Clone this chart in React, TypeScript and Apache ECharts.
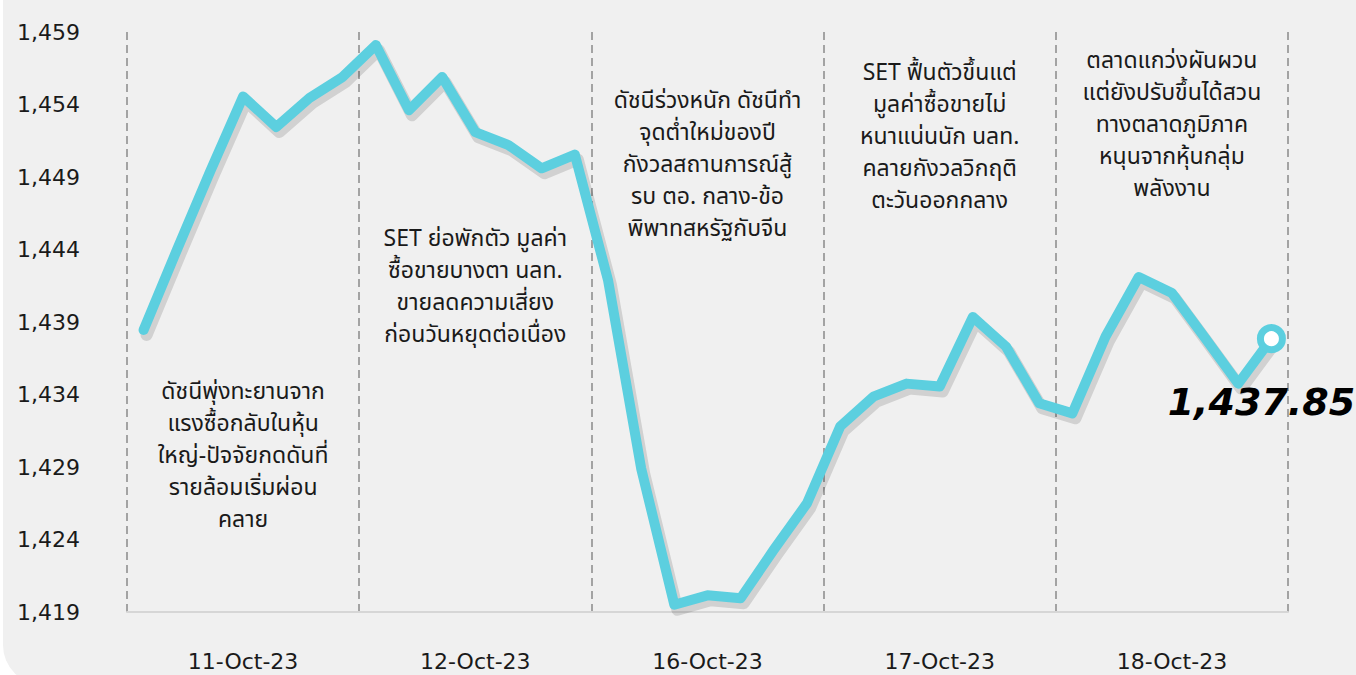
import React, { useEffect, useRef } from "react";
import * as echarts from "echarts";

const dayLabels = ["11-Oct-23", "12-Oct-23", "16-Oct-23", "17-Oct-23", "18-Oct-23"];
const pointsPerDay = 7;
const day1 = [1438.45, 1443.95, 1449.35, 1454.55, 1452.45, 1454.45, 1455.9];
const day2 = [1458.1, 1453.6, 1455.9, 1452.1, 1451.2, 1449.6, 1450.55];
const day3 = [1441.9, 1428.9, 1419.5, 1420.15, 1419.95, 1423.3, 1426.5];
const day4 = [1431.8, 1433.85, 1434.75, 1434.55, 1439.35, 1437.3, 1433.4];
const day5 = [1432.7, 1438.0, 1442.1, 1441.0, 1437.9, 1434.75, 1437.85];
const yTickLabels = ["1,419", "1,424", "1,429", "1,434", "1,439", "1,444", "1,449", "1,454", "1,459"];
const yMin = 1419;
const yMax = 1459;
const lastLabel = "1,437.85";
const notes = [
  "ดัชนีพุ่งทะยานจาก\nแรงซื้อกลับในหุ้น\nใหญ่-ปัจจัยกดดันที่\nรายล้อมเริ่มผ่อน\nคลาย",
  "SET ย่อพักตัว มูลค่า\nซื้อขายบางตา นลท.\nขายลดความเสี่ยง\nก่อนวันหยุดต่อเนื่อง",
  "ดัชนีร่วงหนัก ดัชนีทำ\nจุดต่ำใหม่ของปี\nกังวลสถานการณ์สู้\nรบ ตอ. กลาง-ข้อ\nพิพาทสหรัฐกับจีน",
  "SET ฟื้นตัวขึ้นแต่\nมูลค่าซื้อขายไม่\nหนาแน่นนัก นลท.\nคลายกังวลวิกฤติ\nตะวันออกกลาง",
  "ตลาดแกว่งผันผวน\nแต่ยังปรับขึ้นได้สวน\nทางตลาดภูมิภาค\nหนุนจากหุ้นกลุ่ม\nพลังงาน",
];
const noteTops = [374, 221, 83, 55, 43];

const FONT = "'Noto Sans', 'Noto Sans Thai', Tahoma, sans-serif";
const AXIS_FONT = "'DejaVu Sans', 'Noto Sans', sans-serif";

export default function App() {
  const ref = useRef<HTMLDivElement>(null);
  useEffect(() => {
    document.body.style.margin = "0";
    const chart = echarts.init(ref.current!, null, { renderer: "svg" });
    const values = [...day1, ...day2, ...day3, ...day4, ...day5];
    const cats: string[] = [];
    dayLabels.forEach((d) => {
      for (let i = 0; i < pointsPerDay; i++) cats.push(d + " #" + (i + 1));
    });
    const gridLeft = 127;
    const gridRight = 68;
    const gridTop = 32;
    const gridBottom = 63;
    const width = 1356 - gridLeft - gridRight;
    const dayW = width / dayLabels.length;
    const sdx = 3;
    const sdy = 5;
    const data = values.map((v, i) =>
      i === values.length - 1
        ? {
            value: v,
            symbol: "circle",
            symbolSize: 22,
            itemStyle: { color: "#ffffff", borderColor: "#5ccfdf", borderWidth: 7 },
            label: {
              show: true,
              position: "inside",
              offset: [-10, 63],
              formatter: lastLabel,
              fontSize: 38,
              fontWeight: "bold",
              fontStyle: "italic",
              color: "#000",
              fontFamily: "'DejaVu Sans', sans-serif",
            },
          }
        : { value: v, symbol: "none" }
    );
    chart.setOption({
      animation: false,
      grid: [
        { left: gridLeft, right: gridRight, top: gridTop, bottom: gridBottom },
        { left: gridLeft + sdx, right: gridRight - sdx, top: gridTop + sdy, bottom: gridBottom - sdy },
      ],
      xAxis: [
        { type: "category", data: cats, boundaryGap: true, show: false, gridIndex: 0 },
        {
          type: "category",
          gridIndex: 0,
          data: dayLabels,
          boundaryGap: true,
          position: "bottom",
          axisLine: { show: true, lineStyle: { color: "#d6d6d6", width: 2 } },
          axisTick: { show: false },
          axisLabel: { color: "#1a1a1a", fontSize: 22, margin: 38, fontFamily: AXIS_FONT },
          splitLine: { show: true, lineStyle: { color: "#a3a3a3", width: 2, type: [8, 5] } },
        },
        { type: "category", data: cats, boundaryGap: true, show: false, gridIndex: 1 },
      ],
      yAxis: [
        { type: "value", min: yMin, max: yMax, show: false, splitLine: { show: false }, gridIndex: 0 },
        {
          type: "category",
          gridIndex: 0,
          data: yTickLabels,
          boundaryGap: false,
          position: "left",
          axisLine: { show: false },
          axisTick: { show: false },
          splitLine: { show: false },
          axisLabel: { color: "#1a1a1a", fontSize: 22, align: "left", margin: 110, fontFamily: AXIS_FONT },
        },
        { type: "value", min: yMin, max: yMax, show: false, splitLine: { show: false }, gridIndex: 1 },
      ],
      graphic: notes.map((t, i) => ({
        type: "text",
        x: gridLeft + dayW * (i + 0.5),
        y: noteTops[i],
        z: 1,
        style: {
          text: t,
          fill: "#1a1a1a",
          font: "23px " + FONT,
          align: "center",
          verticalAlign: "top",
          lineHeight: 32,
        },
      })),
      series: [
        {
          type: "line",
          xAxisIndex: 2,
          yAxisIndex: 2,
          data: values,
          symbol: "none",
          silent: true,
          z: 3,
          lineStyle: { color: "rgba(0,0,0,0.13)", width: 12, cap: "round", join: "round" },
        },
        {
          type: "line",
          xAxisIndex: 0,
          yAxisIndex: 0,
          data,
          z: 5,
          lineStyle: {
            color: "#5ccfdf",
            width: 10,
            cap: "round",
            join: "round",
          },
        },
      ],
    });
    return () => chart.dispose();
  }, []);
  return (
    <div style={{ position: "fixed", left: 0, top: 0, width: 1356, height: 675, background: "#ffffff", overflow: "hidden" }}>
      <div
        style={{
          position: "absolute",
          left: 3,
          top: -40,
          width: 1420,
          height: 725,
          background: "#f0f0f0",
          borderRadius: 40,
        }}
      />
      <div ref={ref} style={{ position: "absolute", left: 0, top: 0, width: 1356, height: 675 }} />
    </div>
  );
}
